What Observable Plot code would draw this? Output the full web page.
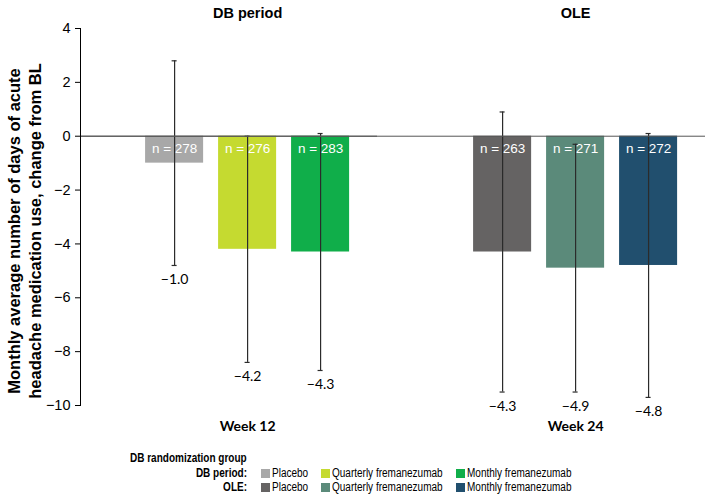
<!DOCTYPE html>
<html>
<head>
<meta charset="utf-8">
<script src="https://cdn.jsdelivr.net/npm/d3@7"></script>
<script src="https://cdn.jsdelivr.net/npm/@observablehq/plot@0.6"></script>
<style>
  html, body { margin: 0; padding: 0; background: #fff; }
  #chart svg { display: block; }
  #legend { position: relative; width: 709px; height: 50px; font-family: 'Liberation Sans', Arial, sans-serif; font-size: 12.5px; color: #000; }
  #legend div { position: absolute; line-height: 14px; white-space: nowrap; }
  #legend .t { transform: scaleX(0.8); transform-origin: 0 50%; }
  #legend .r { transform: scaleX(0.8); transform-origin: 100% 50%; text-align: right; }
  #legend .sw { width: 9px; height: 9px; }
</style>
</head>
<body>
<div id="chart"></div>
<div id="legend"></div>
<script>
const weeks = ["Week 12", "Week 24"];
const periods = ["DB period", "OLE"];
const periodLegend = ["DB period:", "OLE:"];
const groups = ["Placebo", "Quarterly fremanezumab", "Monthly fremanezumab"];
const dbMeans = [-1.0, -4.2, -4.3];
const oleMeans = [-4.3, -4.9, -4.8];
const dbN = [278, 276, 283];
const oleN = [263, 271, 272];
const dbLow = [-4.8, -8.4, -8.7];
const dbHigh = [2.8, 0.0, 0.1];
const oleLow = [-9.5, -9.5, -9.7];
const oleHigh = [0.9, -0.3, 0.1];
const dbColors = ["#a8a8a8", "#c5da30", "#10ae4a"];
const oleColors = ["#656363", "#5b8a7a", "#214f6e"];
const yTicks = [4, 2, 0, -2, -4, -6, -8, -10];
const yLabel = "Monthly average number of days of acute\nheadache medication use, change from BL";
const legendTitle = "DB randomization group";

const means = [dbMeans, oleMeans];
const ns = [dbN, oleN];
const lows = [dbLow, oleLow];
const highs = [dbHigh, oleHigh];
const palettes = [dbColors, oleColors];

const rows = [];
const keys = [];
const colors = [];
weeks.forEach((w, p) => {
  groups.forEach((g, i) => {
    const key = periods[p] + " " + g;
    keys.push(key);
    colors.push(palettes[p][i]);
    rows.push({week: w, group: g, key, mean: means[p][i], n: ns[p][i], lo: lows[p][i], hi: highs[p][i]});
  });
});
const fmt = d3.format(".1f");
const ink = "#2b2b2b";
const fxPadding = 0.0945;

const chart = Plot.plot({
  width: 709,
  height: 445,
  marginLeft: 80,
  marginRight: 4,
  marginTop: 28,
  marginBottom: 40,
  style: {fontFamily: "'Liberation Sans', Arial, sans-serif", fontSize: "14.5px", color: "#000", background: "#fff"},
  fx: {domain: weeks, paddingInner: fxPadding, paddingOuter: 0, axis: null, round: false},
  x: {domain: groups, paddingInner: 0.205, paddingOuter: 0.637, align: 0.7, axis: null, round: false},
  y: {domain: [-10, 4], axis: null},
  color: {domain: keys, range: colors, legend: false},
  marks: [
    Plot.barY(rows, {fx: "week", x: "group", y: "mean", fill: "key"}),
    Plot.text(rows, {fx: "week", x: "group", y: 0, dy: 12, text: d => `n = ${d.n}`, fill: "white", fontSize: 13.5}),
    Plot.ruleX(rows, {fx: "week", x: "group", y1: "lo", y2: "hi", stroke: ink, strokeWidth: 1.2}),
    Plot.tickY(rows, {fx: "week", x: "group", y: "lo", stroke: ink, strokeWidth: 1.2, insetLeft: 26.5, insetRight: 26.5}),
    Plot.tickY(rows, {fx: "week", x: "group", y: "hi", stroke: ink, strokeWidth: 1.2, insetLeft: 26.5, insetRight: 26.5}),
    Plot.ruleY([0], {stroke: "#555", strokeWidth: 1}),
    Plot.ruleY([{week: weeks[0]}], {fx: "week", y: () => 0, stroke: "#555", strokeWidth: 1, insetRight: -31}),
    Plot.text(rows, {fx: "week", x: "group", y: "lo", dy: 14, text: d => fmt(d.mean), fontFamily: "Lato, sans-serif", fontSize: 14}),
    Plot.text(weeks, {fx: d => d, x: () => groups[1], frameAnchor: "top", dy: -21, text: (d, i) => periods[i], fontWeight: "bold", fontSize: 14.5}),
    Plot.text(weeks, {fx: d => d, x: () => groups[1], frameAnchor: "bottom", dy: 25, text: d => d, fontWeight: "bold", fontFamily: "Lato, sans-serif", fontSize: 14}),
    Plot.axisY({ticks: yTicks, tickSize: 5, tickPadding: 5, tickFormat: d3.format("d"), label: null, fontSize: 14.5}),
    Plot.frame({anchor: "left", facetAnchor: "left", stroke: "#000"}),
    Plot.text([{week: weeks[0], label: yLabel}], {fx: "week", text: "label", frameAnchor: "left", textAnchor: "middle", lineAnchor: "middle", rotate: -90, dx: -57, dy: 14, lineHeight: 1.3, fontWeight: "bold", fontSize: 16.5})
  ]
});
document.getElementById("chart").appendChild(chart);

// Legend (HTML, below the SVG)
const legend = document.getElementById("legend");
function add(html, cls, style) {
  const el = document.createElement("div");
  el.innerHTML = html;
  if (cls) el.className = cls;
  Object.assign(el.style, style);
  legend.appendChild(el);
  return el;
}
add(legendTitle, "t", {left: "130px", top: "6px", fontWeight: "bold"});
const swX = [261, 321, 456];
periodLegend.forEach((lab, p) => {
  const top = 21 + p * 14;
  add(lab, "r", {left: "130px", width: "117px", top: top + "px", fontWeight: "bold"});
  groups.forEach((g, i) => {
    add("", "sw", {left: swX[i] + "px", top: (top + 2.5) + "px", background: palettes[p][i]});
    add(g, "t", {left: (swX[i] + 11) + "px", top: top + "px"});
  });
});
</script>
</body>
</html>
